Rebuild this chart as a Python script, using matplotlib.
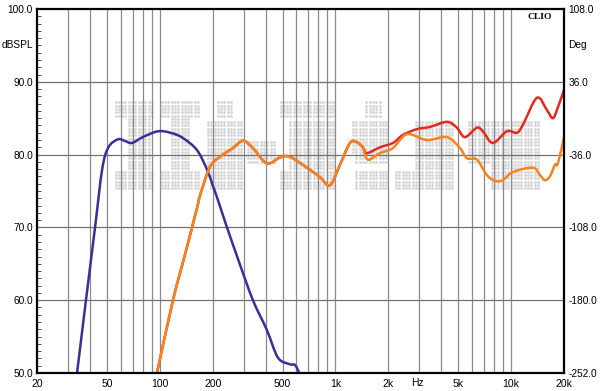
import numpy as np
import matplotlib
matplotlib.use("Agg")
import matplotlib.pyplot as plt
from matplotlib.path import Path
from matplotlib.patches import PathPatch
from matplotlib.ticker import FixedLocator, MultipleLocator, NullFormatter

# ---------------- data ----------------
blue_freq = [33.8, 38, 42.8, 47, 51.0, 57.8, 63, 69.5, 80, 97.7, 115, 135, 163,
             186, 200, 214, 239, 285, 339, 407, 471, 551, 588, 623]
blue_db = [50.0, 60.0, 70.0, 78.0, 81.0, 82.1, 81.9, 81.6, 82.4, 83.2, 83.0, 82.3, 80.6,
           77.9, 75.8, 73.8, 70.3, 65.0, 60.0, 55.9, 52.1, 51.2, 51.1, 50.0]

orange_freq = [96.4, 118.9, 140, 163, 170, 193, 220, 261, 297.6, 339, 407, 483, 551,
               688, 817, 931, 1061, 1209, 1325, 1433, 1531, 1791, 2125, 2553, 3317,
               4312, 5112, 5603, 6386, 7279, 8088, 8978, 10236, 13305, 14582, 15570,
               16630, 17760, 18470, 20000]
orange_db = [50.0, 60.0, 66.5, 72.7, 74.5, 78.3, 79.7, 80.9, 81.9, 80.9, 78.8, 79.6, 79.7,
             78.2, 76.9, 75.8, 78.6, 81.6, 81.7, 80.9, 79.3, 80.2, 80.9, 82.8, 82.0,
             82.4, 80.9, 79.5, 79.3, 77.2, 76.4, 76.5, 77.6, 78.2, 77.2, 76.5,
             77.0, 78.6, 78.8, 82.4]

red_freq = [96.4, 118.9, 140, 163, 170, 193, 220, 261, 297.6, 339, 407, 483, 551,
            688, 817, 931, 1061, 1209, 1325, 1433, 1510, 1791, 2125, 2421, 2909,
            3452, 4312, 4911, 5458, 6386, 6906, 7872, 9463, 10790, 11670, 14030,
            16000, 17300, 18470, 20000]
red_db = [50.0, 60.0, 66.5, 72.7, 74.5, 78.3, 79.7, 80.9, 81.9, 80.9, 78.8, 79.6, 79.7,
          78.2, 76.9, 75.8, 78.6, 81.6, 81.7, 81.0, 80.2, 81.0, 81.6, 82.7, 83.5,
          83.8, 84.5, 83.7, 82.4, 83.7, 83.2, 81.6, 83.2, 83.0, 84.1, 87.8,
          86.1, 85.0, 86.5, 88.9]

x_ticks = [20, 50, 100, 200, 500, 1000, 2000, 5000, 10000, 20000]
x_labels = ["20", "50", "100", "200", "500", "1k", "2k", "5k", "10k", "20k"]
y_ticks = [50, 60, 70, 80, 90, 100]
y_labels = ["50.0", "60.0", "70.0", "80.0", "90.0", "100.0"]
deg_ticks = [-252, -180, -108, -36, 36, 108]
deg_labels = ["-252.0", "-180.0", "-108.0", "-36.0", "36.0", "108.0"]


def smooth_path(freq, db):
    """Catmull-Rom curve through the points, drawn as cubic Bezier segments
    (computed in log-frequency space, vertices given in data coordinates)."""
    lx = np.log10(np.asarray(freq, float))
    y = np.asarray(db, float)
    n = len(lx)
    verts = [(10 ** lx[0], y[0])]
    codes = [Path.MOVETO]
    for i in range(n - 1):
        x0, y0 = (lx[i - 1], y[i - 1]) if i > 0 else (lx[i], y[i])
        x1, y1 = lx[i], y[i]
        x2, y2 = lx[i + 1], y[i + 1]
        x3, y3 = (lx[i + 2], y[i + 2]) if i + 2 < n else (x2, y2)
        c1 = (x1 + (x2 - x0) / 6.0, y1 + (y2 - y0) / 6.0)
        c2 = (x2 - (x3 - x1) / 6.0, y2 - (y3 - y1) / 6.0)
        verts += [(10 ** c1[0], c1[1]), (10 ** c2[0], c2[1]), (10 ** x2, y2)]
        codes += [Path.CURVE4] * 3
    return Path(verts, codes)


# ---------------- figure ----------------
W, H = 600, 391
fig = plt.figure(figsize=(6.0, 3.91), dpi=100)
L, R, T, B = 37, 564, 9, 373
ax = fig.add_axes([L / W, (H - B) / H, (R - L) / W, (B - T) / H])
ax.set_xscale("log")
ax.set_xlim(20, 20000)
ax.set_ylim(50, 100)

font = "Liberation Sans"

# watermark dots (decorative), rectangles in reference pixel coords
wm_rects = [(117, 152, 102, 115), (128, 150, 115, 172), (117, 152, 172, 187),
            (163, 197, 102, 115), (172, 187, 115, 172), (163, 197, 172, 187),
            (218, 232, 102, 115), (208, 240, 122, 172), (210, 240, 172, 187), (247, 273, 142, 162),
            (280, 333, 102, 115), (290, 333, 122, 172), (280, 333, 172, 187),
            (353, 380, 122, 152),
            (367, 380, 102, 115), (357, 387, 122, 162), (357, 387, 172, 187), (397, 413, 173, 187),
            (417, 453, 122, 187), (470, 487, 122, 162), (493, 537, 122, 187)]
pts = set()
step = 3.3
for x0, x1, y0, y1 in wm_rects:
    for i in range(int(round(x0 / step)), int(round(x1 / step)) + 1):
        for j in range(int(round(y0 / step)), int(round(y1 / step)) + 1):
            pts.add((i, j))
pts = np.array(sorted(pts), dtype=float) * step
ax.scatter((pts[:, 0] - L) / (R - L), (B - pts[:, 1]) / (B - T), s=4.0, color="#d4d4d4",
           marker="o", linewidths=0, transform=ax.transAxes, zorder=0.5)

# grid
vgrid = list(range(30, 100, 10)) + list(range(100, 1000, 100)) + list(range(1000, 10000, 1000)) + [10000]
for v in vgrid:
    ax.axvline(v, color="#8a8a8a", lw=0.9, zorder=1)
for h in [60, 70, 80, 90]:
    ax.axhline(h, color="#707070", lw=0.9, zorder=1)

# curves
for fr, db, col, z in [(blue_freq, blue_db, "#3a2e9c", 3),
                       (red_freq, red_db, "#e42a1e", 3),
                       (orange_freq, orange_db, "#f5831f", 4)]:
    ax.add_patch(PathPatch(smooth_path(fr, db), facecolor="none", edgecolor=col,
                           lw=1.8, zorder=z, clip_on=True))

# axes styling
for s in ax.spines.values():
    s.set_linewidth(1.6)
    s.set_color("black")
    s.set_zorder(5)

ax.xaxis.set_major_locator(FixedLocator(x_ticks))
ax.set_xticklabels(x_labels, fontsize=7.5, family=font)
ax.xaxis.set_minor_locator(FixedLocator([]))
ax.tick_params(axis="x", which="both", length=0, pad=4)

ax.yaxis.set_major_locator(FixedLocator(y_ticks))
ax.set_yticklabels(y_labels, fontsize=7.3, family=font)
ax.yaxis.set_minor_locator(MultipleLocator(1))
ax.yaxis.set_minor_formatter(NullFormatter())
ax.tick_params(axis="y", which="major", length=0, pad=3)
ax.tick_params(axis="y", which="minor", direction="in", length=3, width=0.6,
               left=True, right=True, color="#333333")

ax2 = ax.twinx()
ax2.set_ylim(-252, 108)
ax2.yaxis.set_major_locator(FixedLocator(deg_ticks))
ax2.set_yticklabels(deg_labels, fontsize=7.3, family=font)
ax2.tick_params(axis="y", length=0, pad=3)
for s in ax2.spines.values():
    s.set_visible(False)

# labels
fig.text(33 / W, 1 - 45 / H, "dBSPL", ha="right", va="center", fontsize=7.3, family=font)
fig.text(568 / W, 1 - 45 / H, "Deg", ha="left", va="center", fontsize=7.3, family=font)
fig.text(417 / W, 1 - 383 / H, "Hz", ha="center", va="center", fontsize=7.5, family=font)
fig.text(540 / W, 1 - 17 / H, "CLIO", ha="center", va="center", fontsize=6.8,
         family="Liberation Serif", weight="bold")

fig.savefig("out.png", dpi=100, facecolor="white")
